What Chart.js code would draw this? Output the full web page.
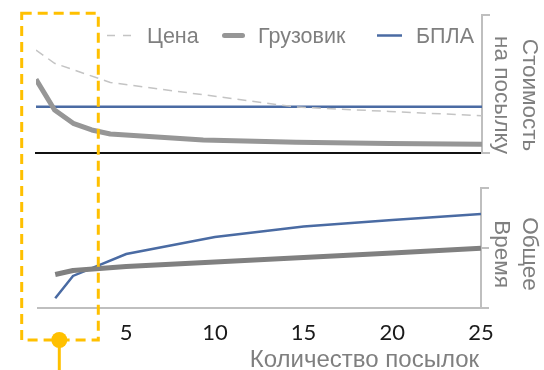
<!DOCTYPE html>
<html>
<head>
<meta charset="utf-8">
<script src="https://cdn.jsdelivr.net/npm/chart.js"></script>
<style>
  html, body { margin: 0; padding: 0; background: #fff; }
  #wrap { position: relative; width: 544px; height: 370px; overflow: hidden;
          font-family: "Liberation Sans", Arial, sans-serif; }
  .layer { position: absolute; left: 0; top: 0; width: 544px; height: 370px; }
  .lbl { position: absolute; color: #7f7f7f; font-size: 21.5px; line-height: 21px; white-space: nowrap; }
  .vtitle { position: absolute; width: 180px; height: 56px; line-height: 28px; text-align: center;
            color: #7f7f7f; font-size: 22.5px; white-space: nowrap; transform: rotate(90deg); }
</style>
</head>
<body>
<div id="wrap">
  <div class="layer"><canvas id="costChart"></canvas></div>
  <div class="layer"><canvas id="timeChart"></canvas></div>

  <svg class="layer" width="544" height="370" viewBox="0 0 544 370">
    <!-- legend keys -->
    <line x1="107" y1="35.5" x2="132" y2="35.5" stroke="#c4c4c4" stroke-width="1.5" stroke-dasharray="8 8"/>
    <line x1="224.5" y1="35.5" x2="242.5" y2="35.5" stroke="#969696" stroke-width="5" stroke-linecap="round"/>
    <line x1="377" y1="35.5" x2="402" y2="35.5" stroke="#4a6ba3" stroke-width="2.5"/>
    <!-- highlighted range callout -->
    <rect x="21.7" y="13.3" width="76.6" height="326.7" fill="none" stroke="#FFC000" stroke-width="3" stroke-dasharray="10 6"/>
    <line x1="59.3" y1="340" x2="59.3" y2="372" stroke="#FFC000" stroke-width="3"/>
    <circle cx="59.3" cy="340" r="8" fill="#FFC000"/>
  </svg>

  <span class="lbl" style="left:147px; top:26px;">Цена</span>
  <span class="lbl" style="left:258px; top:26px;">Грузовик</span>
  <span class="lbl" style="left:416px; top:26px;">БПЛА</span>

  <div class="vtitle" style="left:426px; top:67px;">Стоимость<br>на посылку</div>
  <div class="vtitle" style="left:426px; top:225.5px;">Общее<br>Время</div>

  <span class="lbl" style="right:65px; top:347px; font-size:24px; line-height:24px;">Количество посылок</span>
</div>

<script>
// Number of parcels at which each series was sampled
const parcelCounts   = [1, 2, 3, 4, 5, 10, 15, 20, 25];
const priceCounts    = [1, 2, 5, 10, 15, 20, 25];
const droneCostCounts = [1, 25];
const timeCounts     = [1, 2, 5, 10, 15, 20, 25];

// Cost per parcel (relative units)
const priceCost = [74.6, 65.0, 51.1, 42.2, 33.3, 30.1, 27.0];
const truckCost = [53.4, 31.2, 21.5, 16.7, 13.8, 9.4, 7.8, 6.9, 6.3];
const droneCost = [33.5, 33.5];

// Total delivery time (relative units)
const truckTime = [27.9, 31.25, 34.6, 38.3, 42.1, 45.8, 49.75];
const droneTime = [8.1, 26.7, 45.0, 59.2, 67.9, 73.3, 78.3];

// Tick labels on the parcel-count axis
const xTickLabels = [5, 10, 15, 20, 25];

const pts = (xs, ys) => xs.map((x, i) => ({ x: x, y: ys[i] }));
const FAMILY = '"Liberation Sans", Arial, sans-serif';
const GRAY_AXIS = '#bfbfbf';
const BLUE = '#4a6ba3';

const baseOptions = {
  responsive: true,
  maintainAspectRatio: false,
  animation: false,
  events: [],
  plugins: { legend: { display: false }, tooltip: { enabled: false } },
  elements: { point: { radius: 0 }, line: { tension: 0, borderCapStyle: 'butt' } }
};

// Upper panel: cost per parcel
new Chart(document.getElementById('costChart'), {
  type: 'line',
  data: {
    datasets: [
      { label: 'Цена', data: pts(priceCounts, priceCost), borderColor: '#c4c4c4',
        borderWidth: 1.5, borderDash: [9, 6] },
      { label: 'Грузовик', data: pts(parcelCounts, truckCost), borderColor: '#969696',
        borderWidth: 5, borderJoinStyle: 'round' },
      { label: 'БПЛА', data: pts(droneCostCounts, droneCost), borderColor: BLUE,
        borderWidth: 2.5 }
    ]
  },
  options: Object.assign({}, baseOptions, {
    layout: { padding: { left: 36, right: 54, top: 15, bottom: 217 } },
    scales: {
      x: {
        type: 'linear', min: 1, max: 25,
        ticks: { display: false },
        grid: { display: false, drawTicks: false },
        border: { color: '#111', width: 2 },
        afterFit: s => { s.height = 0; s.paddingLeft = 0; s.paddingRight = 0; }
      },
      y: {
        position: 'right', min: 0, max: 100,
        ticks: { display: false, stepSize: 100 },
        grid: { drawOnChartArea: false, drawTicks: true, tickLength: 8, color: GRAY_AXIS, lineWidth: 2 },
        border: { color: GRAY_AXIS, width: 2 },
        afterFit: s => { s.width = 8; }
      }
    }
  })
});

// Lower panel: total delivery time
new Chart(document.getElementById('timeChart'), {
  type: 'line',
  data: {
    datasets: [
      { label: 'Грузовик', data: pts(timeCounts, truckTime), borderColor: '#808080',
        borderWidth: 5, borderJoinStyle: 'round' },
      { label: 'БПЛА', data: pts(timeCounts, droneTime), borderColor: BLUE,
        borderWidth: 2.5 }
    ]
  },
  options: Object.assign({}, baseOptions, {
    layout: { padding: { left: 37.5, right: 55, top: 188, bottom: 22 } },
    scales: {
      x: {
        type: 'linear', min: 0, max: 25,
        afterBuildTicks: s => { s.ticks = xTickLabels.map(v => ({ value: v })); },
        ticks: { color: '#1a1a1a', font: { family: 'Lato, ' + FAMILY, size: 22 },
                 padding: 12, maxRotation: 0, autoSkip: false },
        grid: { display: false, drawTicks: false },
        border: { color: GRAY_AXIS, width: 2 },
        afterFit: s => { s.height = 40; s.paddingLeft = 0; s.paddingRight = 0; }
      },
      y: {
        position: 'right', min: 0, max: 100,
        ticks: { display: false, stepSize: 50 },
        grid: { drawOnChartArea: false, drawTicks: true, tickLength: 8, color: GRAY_AXIS, lineWidth: 2 },
        border: { color: GRAY_AXIS, width: 2 },
        afterFit: s => { s.width = 8; }
      }
    }
  })
});
</script>
</body>
</html>
